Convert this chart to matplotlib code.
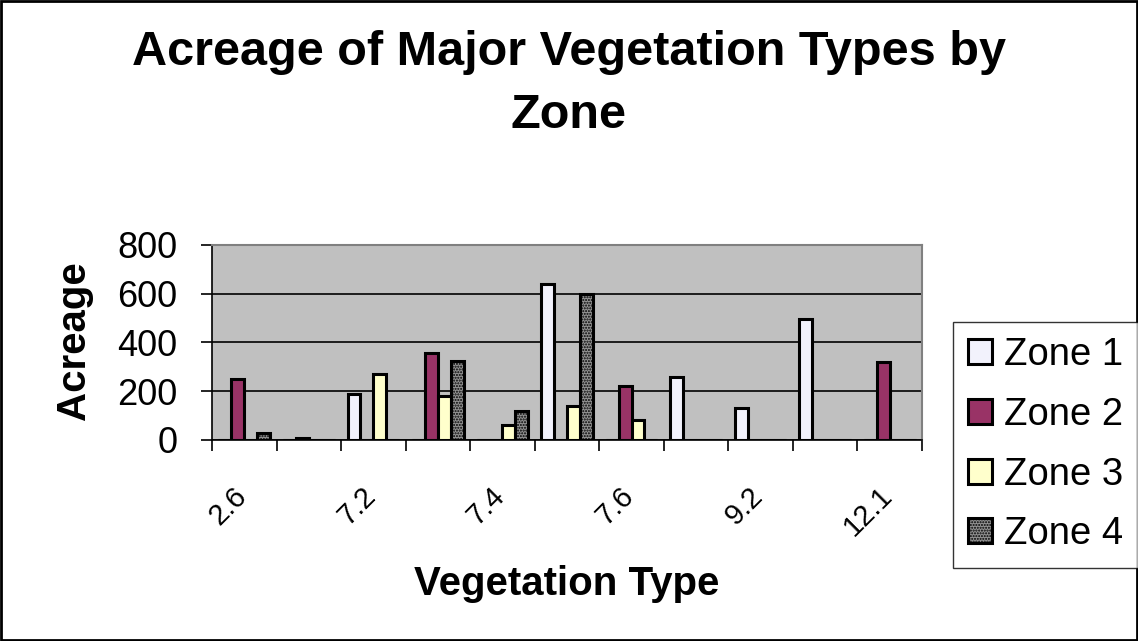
import matplotlib
matplotlib.use("Agg")
import matplotlib.pyplot as plt
from matplotlib.transforms import ScaledTranslation
import numpy as np

plt.rcParams['font.family'] = ['Liberation Sans', 'DejaVu Sans']
plt.rcParams['hatch.linewidth'] = 1.0

# vegetation types (only every other one gets a visible label)
veg_types = ["2.6", "7.1", "7.2", "7.3", "7.4", "7.5", "7.6", "9.1", "9.2", "12", "12.1"]
zone1 = [0, 0, 190, 0, 0, 640, 0, 260, 130, 495, 0]
zone2 = [250, 10, 0, 355, 0, 0, 220, 0, 0, 0, 320]
zone3 = [0, 0, 270, 180, 60, 140, 80, 0, 0, 0, 0]
zone4 = [30, 0, 0, 325, 120, 600, 0, 0, 0, 0, 0]
zone_names = ["Zone 1", "Zone 2", "Zone 3", "Zone 4"]

fig = plt.figure(figsize=(11.38, 6.41), dpi=100)
ax = fig.add_axes([0.1863, 0.3136, 0.6239, 0.3042])
ax.set_facecolor('#C0C0C0')

x = np.arange(len(veg_types))
w = 0.2
styles = [
    dict(color='#F2F2FC', hatch=None),
    dict(color='#993366', hatch=None),
    dict(color='#FFFFCC', hatch=None),
    dict(color='#939393', hatch='......'),
]
series = [zone1, zone2, zone3, zone4]
handles = []
for i, (vals, st) in enumerate(zip(series, styles)):
    b = ax.bar(x + (i - 1.5) * w, vals, w, color=st['color'], edgecolor='black',
               linewidth=2.2, hatch=st['hatch'], zorder=3, label=zone_names[i])
    handles.append(b)

ax.set_xlim(-0.5, len(veg_types) - 0.5)
ax.set_ylim(0, 800)
ax.set_yticks([0, 200, 400, 600, 800])
ax.yaxis.grid(True, color='black', linewidth=1.2, zorder=1)
ax.tick_params(axis='y', labelsize=26, length=8, width=1.2, direction='out', pad=17)

ax.set_xticks(x[::2])
ax.set_xticklabels(veg_types[::2], rotation=45, ha='right', va='top',
                   rotation_mode='anchor', fontsize=21)
ax.tick_params(axis='x', which='major', length=0, pad=30)
shift = ScaledTranslation(-0.12, 0, fig.dpi_scale_trans)
for lab in ax.get_xticklabels():
    lab.set_transform(lab.get_transform() + shift)
ax.set_xticks(np.arange(len(veg_types) + 1) - 0.5, minor=True)
ax.tick_params(axis='x', which='minor', length=8, width=1.2, direction='out')

for s in ['top', 'right']:
    ax.spines[s].set_color('#808080')
    ax.spines[s].set_linewidth(1.5)
for s in ['left', 'bottom']:
    ax.spines[s].set_color('black')
    ax.spines[s].set_linewidth(1.2)

ax.set_ylabel('Acreage', fontsize=29, fontweight='bold')
ax.yaxis.set_label_coords(-0.168, 0.51)
ax.set_xlabel('Vegetation Type', fontsize=29, fontweight='bold')
ax.xaxis.set_label_coords(0.5, -0.64)

fig.suptitle('Acreage of Major Vegetation Types by\nZone', fontsize=35,
             fontweight='bold', x=0.5, y=0.953, va='top', linespacing=1.5)

leg = fig.legend(handles=handles, labels=zone_names, loc='upper left',
                 bbox_to_anchor=(0.8374, 0.4977), fontsize=27.5, frameon=True,
                 fancybox=False, edgecolor='black', handlelength=0.63,
                 handleheight=0.63, handletextpad=0.3, labelspacing=0.62,
                 borderpad=0.4, borderaxespad=0)
leg.get_frame().set_linewidth(1.0)

fig.patches.append(plt.Rectangle((0.001, 0.001), 0.998, 0.997, transform=fig.transFigure,
                                 fill=False, edgecolor='black', linewidth=2))

fig.savefig('out.png', dpi=100)
